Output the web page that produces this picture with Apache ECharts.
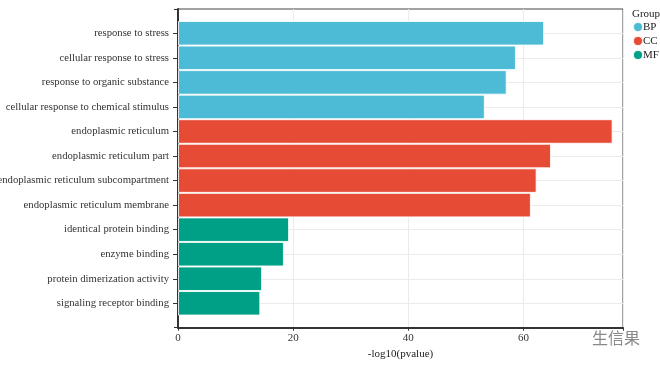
<!DOCTYPE html>
<html><head><meta charset="utf-8">
<script src="https://cdn.jsdelivr.net/npm/echarts@6/dist/echarts.min.js"></script>
<style>html,body{margin:0;padding:0;background:#fff}#c{width:660px;height:367px}</style>
</head><body><div id="c"></div>
<script>
const categories = [
  'response to stress','cellular response to stress','response to organic substance','cellular response to chemical stimulus',
  'endoplasmic reticulum','endoplasmic reticulum part','endoplasmic reticulum subcompartment','endoplasmic reticulum membrane',
  'identical protein binding','enzyme binding','protein dimerization activity','signaling receptor binding'
];
const groupOf = ['BP','BP','BP','BP','CC','CC','CC','CC','MF','MF','MF','MF'];
const values = [63.6, 58.7, 57.1, 53.3, 75.5, 64.8, 62.3, 61.3, 19.3, 18.4, 14.6, 14.3];
const groups = ['BP','CC','MF'];
const groupColors = ['#4DBBD5','#E64B35','#00A087'];
const xTicks = [0, 20, 40, 60];
const xMax = 77.3;

const FONT = 'Liberation Serif';
const chart = echarts.init(document.getElementById('c'));
const series = groups.map((g, gi) => ({
  name: g, type: 'bar', xAxisIndex: 1, yAxisIndex: 1, stack: 'all',
  barCategoryGap: '0%', clip: false,
  itemStyle: { color: groupColors[gi], borderColor: 'rgba(255,255,255,0.85)', borderWidth: 1 },
  data: values.map((v, i) => groupOf[i] === g ? v : '-')
}));
chart.setOption({
  animation: false,
  textStyle: { fontFamily: FONT },
  grid: [
    { left: 178, right: 37, top: 9, bottom: 39.3, show: true, borderColor: '#444', borderWidth: 1,
      containLabel: false, outerBoundsMode: 'none' },
    { left: 178, right: 37, top: 33.3, bottom: 63.7, containLabel: false, outerBoundsMode: 'none' }
  ],
  legend: {
    data: groups, orient: 'vertical', left: 632, top: 21, icon: 'circle', padding: 0,
    itemWidth: 10, itemHeight: 10, itemGap: 2,
    textStyle: { fontFamily: FONT, fontSize: 11, color: '#222', padding: [0,0,0,-5] }
  },
  graphic: [
    { type: 'text', left: 632, top: 9, style: { text: 'Group', font: '11px "Liberation Serif"', fill: '#222' } },
    { type: 'text', left: 592, top: 330, style: { text: '生信果', font: '16px "Noto Sans CJK SC"', fill: '#8a8a8a' } }
  ],
  xAxis: [
    { type: 'value', gridIndex: 0, min: 0, max: xMax, interval: 20,
      axisLine: { show: true, lineStyle: { color: '#333', width: 2 } },
      axisTick: { show: true, length: 3, lineStyle: { color: '#333' } },
      axisLabel: { fontFamily: FONT, fontSize: 11, color: '#333', margin: 5,
        formatter: v => xTicks.includes(v) ? String(v) : '' },
      splitLine: { show: true, lineStyle: { color: '#ebebeb', width: 1 } },
      name: '-log10(pvalue)', nameLocation: 'middle', nameGap: 20,
      nameTextStyle: { fontFamily: FONT, fontSize: 11, color: '#222' } },
    { type: 'value', gridIndex: 1, min: 0, max: xMax, show: false }
  ],
  yAxis: [
    { type: 'value', gridIndex: 0, min: 0, max: 1, interval: 1,
      axisLine: { show: true, lineStyle: { color: '#333', width: 2 } },
      axisTick: { show: true, length: 4, lineStyle: { color: '#333' } },
      axisLabel: { show: false }, splitLine: { show: false } },
    { type: 'category', gridIndex: 1, data: categories, inverse: true, boundaryGap: false,
      axisLine: { show: false },
      axisTick: { show: true, length: 5, lineStyle: { color: '#333' } },
      axisLabel: { fontFamily: FONT, fontSize: 10.7, color: '#333', margin: 9 },
      splitLine: { show: true, lineStyle: { color: '#ebebeb', width: 1 } } }
  ],
  series: series
});
</script></body></html>
